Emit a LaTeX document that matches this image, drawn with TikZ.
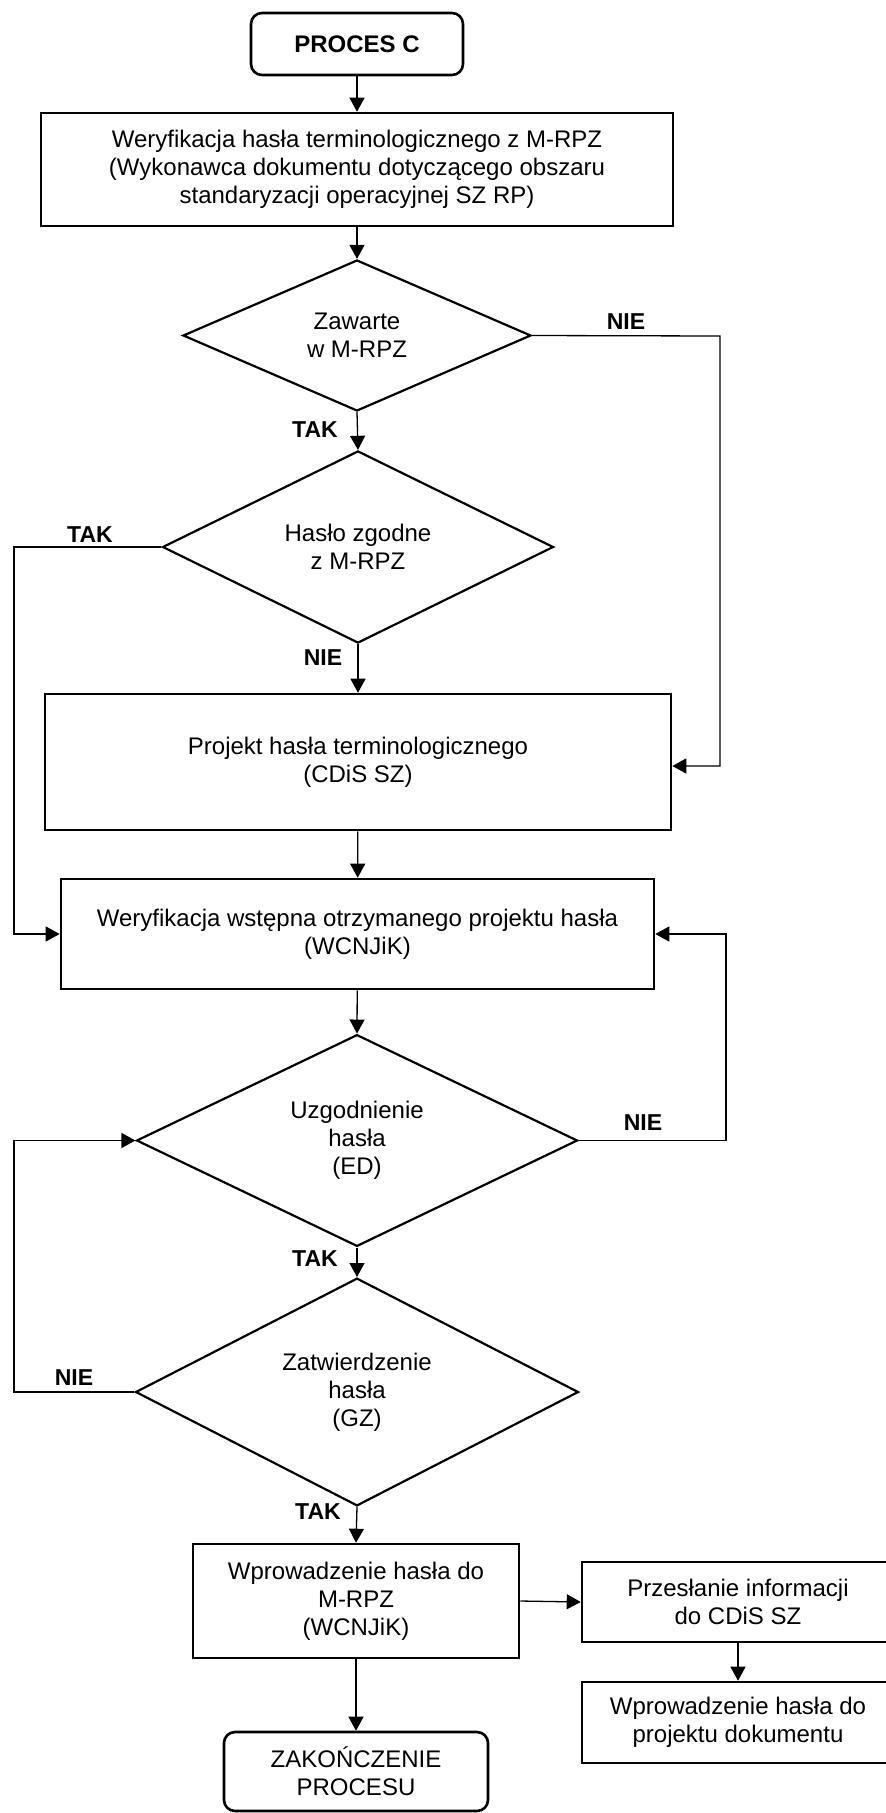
\documentclass[tikz,border=0pt]{standalone}
\usepackage{fontspec}
\setmainfont{Liberation Sans}
\usetikzlibrary{shapes.geometric,arrows.meta}

\tikzset{
  txt/.style={font=\fontsize{24}{28}\selectfont, align=center, inner sep=0pt},
  stepbox/.style={txt, draw, line width=2.6pt},
  term/.style={txt, draw, line width=2.6pt, rounded corners=11pt},
  decision/.style={txt, diamond, draw, line width=2.2pt},
  conn/.style={line width=1.3pt, -{Triangle[length=14pt,width=15pt]}},
  lbl/.style={font=\fontsize{23}{27}\selectfont\bfseries, inner sep=0pt}
}

\begin{document}
\begin{tikzpicture}[x=1pt,y=-1pt]
\useasboundingbox (0,0) rectangle (886,1813);

% main column
\node[term, minimum width=212pt, minimum height=62pt] (start) at (357,44) {\textbf{PROCES C}};
\node[stepbox, minimum width=632pt, minimum height=113pt] (ver) at (357,169.5)
  {Weryfikacja hasła terminologicznego z M-RPZ\\(Wykonawca dokumentu dotyczącego obszaru\\standaryzacji operacyjnej SZ RP)};
\node[decision, minimum width=348pt, minimum height=151pt] (inc) at (357,335.5) {Zawarte\\w M-RPZ};
\node[decision, minimum width=391pt, minimum height=174pt] (agr) at (358,547) {Hasło zgodne\\z M-RPZ};
\node[stepbox, minimum width=626pt, minimum height=136pt] (proj) at (358,762)
  {Projekt hasła terminologicznego\\(CDiS SZ)};
\node[stepbox, minimum width=593pt, minimum height=110pt] (pre) at (357.5,934)
  {Weryfikacja wstępna otrzymanego projektu hasła\\(WCNJiK)};
\node[decision, minimum width=441pt, minimum height=201pt] (ed) at (357,1140.5) {Uzgodnienie\\hasła\\(ED)};
\node[decision, minimum width=443pt, minimum height=200pt] (gz) at (357,1392) {Zatwierdzenie\\hasła\\(GZ)};
\node[stepbox, minimum width=326pt, minimum height=114pt] (ins) at (356,1601)
  {Wprowadzenie hasła do\\M-RPZ\\(WCNJiK)};
\node[term, minimum width=264pt, minimum height=79pt] (fin) at (356,1771.5)
  {ZAKOŃCZENIE\\PROCESU};

% side branch
\node[stepbox, minimum width=312pt, minimum height=80pt] (send) at (738,1602)
  {Przesłanie informacji\\do CDiS SZ};
\node[stepbox, minimum width=312pt, minimum height=81pt] (doc) at (738,1722.5)
  {Wprowadzenie hasła do\\projektu dokumentu};

% bend points of the loops
\coordinate (r1) at (720,336);
\coordinate (r1b) at (720,766);
\coordinate (l1) at (14,547);
\coordinate (l1b) at (14,934);
\coordinate (r2) at (726,1140.5);
\coordinate (r2b) at (726,934);
\coordinate (l2) at (14,1392);
\coordinate (l2b) at (14,1140.5);

% connectors
\draw[conn] (start) -- (ver);
\draw[conn] (ver) -- (inc);
\draw[conn] (inc.south) -- (agr.north);
\draw[conn] (inc.east) -- (r1) -- (r1b) -- (r1b -| proj.east);
\draw[conn] (agr.south) -- (proj.north);
\draw[conn] (agr.west) -- (l1) -- (l1b) -- (pre.west);
\draw[conn] (proj) -- (pre);
\draw[conn] (pre) -- (ed.north);
\draw[conn] (ed.east) -- (r2) -- (r2b) -- (pre.east);
\draw[conn] (ed.south) -- (gz.north);
\draw[conn] (gz.west) -- (l2) -- (l2b) -- (ed.west);
\draw[conn] (gz.south) -- (ins.north);
\draw[conn] (ins.east) -- (send.west);
\draw[conn] (send.south -| doc.north) -- (doc.north);
\draw[conn] (ins) -- (fin);

% branch labels
\node[lbl] (n1) at (626,322) {NIE};
\node[lbl] (t1) at (315,430) {TAK};
\node[lbl] (t2) at (90,535) {TAK};
\node[lbl] (n2) at (323,658) {NIE};
\node[lbl] (n3) at (643,1123) {NIE};
\node[lbl] (t3) at (315,1259) {TAK};
\node[lbl] (n4) at (74,1378) {NIE};
\node[lbl] (t4) at (318,1512) {TAK};
\end{tikzpicture}
\end{document}
